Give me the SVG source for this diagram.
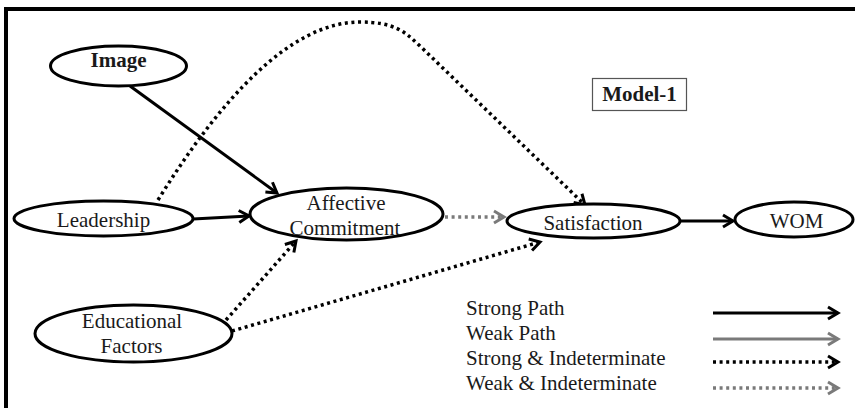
<svg xmlns="http://www.w3.org/2000/svg" width="855" height="408" viewBox="0 0 855 408">
<defs>
<style>
.node{fill:#fff;stroke:#000;stroke-width:3}
.lbl{font-family:"Liberation Serif","Times New Roman",serif;font-size:21px;fill:#1a1a1a;text-anchor:middle}
.bold{font-weight:bold}
.leg{font-family:"Liberation Serif","Times New Roman",serif;font-size:21px;fill:#1a1a1a}
.strong{fill:none;stroke:#000;stroke-width:3}
.weak{fill:none;stroke:#7a7a7a;stroke-width:3}
.sdot{fill:none;stroke:#000;stroke-width:3.5;stroke-dasharray:3 3.6}
.wdot{fill:none;stroke:#7a7a7a;stroke-width:3.5;stroke-dasharray:3 3.6}
</style>
<marker id="ab" markerUnits="userSpaceOnUse" markerWidth="16" markerHeight="16" refX="11" refY="7" orient="auto" viewBox="-2 -1 16 16">
<path d="M1,1 L11,7 L1,13" fill="none" stroke="#000" stroke-width="3"/>
</marker>
<marker id="ag" markerUnits="userSpaceOnUse" markerWidth="16" markerHeight="16" refX="11" refY="7" orient="auto" viewBox="-2 -1 16 16">
<path d="M1,1 L11,7 L1,13" fill="none" stroke="#7a7a7a" stroke-width="3"/>
</marker>
</defs>
<rect width="855" height="408" fill="#fff"/>
<path d="M6,408 L6,9 L855,9" fill="none" stroke="#000" stroke-width="4"/>

<g id="connectors">
<line class="strong" x1="130" y1="86" x2="277" y2="193" marker-end="url(#ab)"/>
<line class="strong" x1="193" y1="219" x2="249" y2="216" marker-end="url(#ab)"/>
<path class="sdot" d="M158,200 C220,100 290,22 360,22 C395,22 405,32 420,46 L585,205" marker-end="url(#ab)"/>
<line class="sdot" x1="226" y1="320" x2="296" y2="241" marker-end="url(#ab)"/>
<line class="sdot" x1="232" y1="331" x2="540" y2="242" marker-end="url(#ab)"/>
<line class="wdot" x1="445" y1="217" x2="504" y2="217" marker-end="url(#ag)"/>
<line class="strong" x1="680" y1="221" x2="733" y2="221" marker-end="url(#ab)"/>
</g>

<g id="image">
<ellipse class="node" cx="118.5" cy="66" rx="68" ry="20"/>
<text class="lbl bold" x="118.5" y="67" font-size="20">Image</text>
</g>
<g id="leadership">
<ellipse class="node" cx="103.5" cy="218.5" rx="89.5" ry="17.5"/>
<text class="lbl" x="103.5" y="227">Leadership</text>
</g>
<g id="affective">
<ellipse class="node" cx="346.5" cy="214" rx="96.5" ry="26"/>
<text class="lbl" x="346" y="210">Affective</text>
<text class="lbl" x="345" y="235">Commitment</text>
</g>
<g id="educational">
<ellipse class="node" cx="133.5" cy="333.5" rx="98.5" ry="28.5"/>
<text class="lbl" x="132" y="328">Educational</text>
<text class="lbl" x="131.5" y="353">Factors</text>
</g>
<g id="satisfaction">
<ellipse class="node" cx="593.5" cy="221" rx="86.5" ry="17"/>
<text class="lbl" x="593" y="230">Satisfaction</text>
</g>
<g id="wom">
<ellipse class="node" cx="794" cy="219.5" rx="59" ry="17.5"/>
<text class="lbl" x="796.5" y="228">WOM</text>
</g>
<g id="model">
<rect x="592.5" y="78.5" width="94" height="32" fill="#fff" stroke="#555" stroke-width="1.2"/>
<text class="lbl bold" x="639.5" y="101">Model-1</text>
</g>

<g id="legend">
<text class="leg" x="466" y="315">Strong Path</text>
<text class="leg" x="466" y="340">Weak Path</text>
<text class="leg" x="466" y="365">Strong &amp; Indeterminate</text>
<text class="leg" x="466" y="390">Weak &amp; Indeterminate</text>
<line class="strong" x1="713" y1="313" x2="838" y2="313" marker-end="url(#ab)"/>
<line class="weak" x1="713" y1="339" x2="838" y2="339" marker-end="url(#ag)"/>
<line class="sdot" x1="713" y1="362" x2="838" y2="362" marker-end="url(#ab)"/>
<line class="wdot" x1="713" y1="388" x2="838" y2="388" marker-end="url(#ag)"/>
</g>
</svg>
